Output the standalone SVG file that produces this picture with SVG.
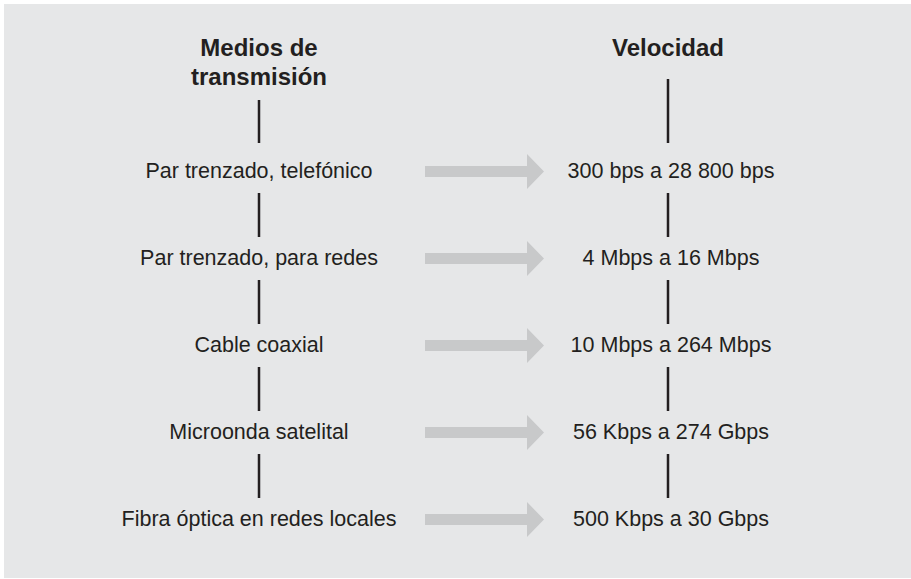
<svg xmlns="http://www.w3.org/2000/svg" width="911" height="579" viewBox="0 0 911 579">
<style>
.bg{fill:#e6e7e8}
.t{font-family:"Liberation Sans",Arial,sans-serif;font-size:21.5px;fill:#231f20;text-anchor:middle}
.h{font-family:"Liberation Sans",Arial,sans-serif;font-size:24px;font-weight:bold;fill:#231f20;text-anchor:middle}
.v{stroke:#231f20;stroke-width:2.5;fill:none}
.a{fill:#c8c9ca}
</style>
<defs>
<polygon id="arr" points="425,-5.5 527,-5.5 527,-17.5 544,0 527,17.5 527,5.5 425,5.5"/>
</defs>
<rect class="bg" x="4" y="4" width="907" height="574"/>
<g id="header-medios"><text class="h" x="259" y="56">Medios de</text><text class="h" x="259" y="85">transmisión</text></g>
<g id="header-velocidad"><text class="h" x="668" y="56">Velocidad</text></g>
<g id="m1"><text class="t" x="259" y="178">Par trenzado, telefónico</text></g>
<g id="m2"><text class="t" x="259" y="265">Par trenzado, para redes</text></g>
<g id="m3"><text class="t" x="259" y="352">Cable coaxial</text></g>
<g id="m4"><text class="t" x="259" y="439">Microonda satelital</text></g>
<g id="m5"><text class="t" x="259" y="526">Fibra óptica en redes locales</text></g>
<g id="v1"><text class="t" x="671" y="178">300 bps a 28 800 bps</text></g>
<g id="v2"><text class="t" x="671" y="265">4 Mbps a 16 Mbps</text></g>
<g id="v3"><text class="t" x="671" y="352">10 Mbps a 264 Mbps</text></g>
<g id="v4"><text class="t" x="671" y="439">56 Kbps a 274 Gbps</text></g>
<g id="v5"><text class="t" x="671" y="526">500 Kbps a 30 Gbps</text></g>
<g id="connectors">
<path class="v" d="M259,100V143M259,193V237M259,280V324M259,367V411M259,454V498"/>
<path class="v" d="M668,79V143M668,193V237M668,280V324M668,367V411M668,454V498"/>
<use href="#arr" class="a" y="171.5"/>
<use href="#arr" class="a" y="258.5"/>
<use href="#arr" class="a" y="345.5"/>
<use href="#arr" class="a" y="432.5"/>
<use href="#arr" class="a" y="519.5"/>
</g>
</svg>
